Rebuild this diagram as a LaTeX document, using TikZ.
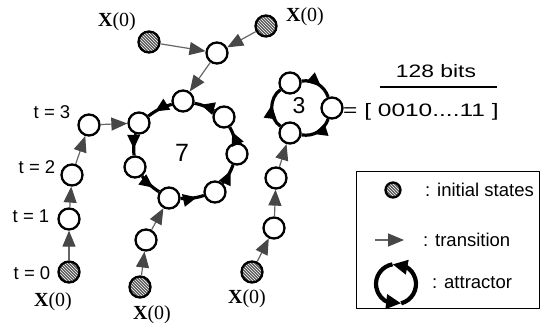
\documentclass[tikz,border=0pt]{standalone}
\usepackage{fontspec}
\setmainfont{Liberation Sans}
\newfontfamily\timesfont{Liberation Serif}
\usetikzlibrary{arrows.meta,patterns,decorations.markings,bending}

\tikzset{
  st/.style={circle,draw,line width=2.3pt,fill=white,minimum size=21pt,inner sep=0pt},
  init/.style={circle,draw,line width=2.3pt,minimum size=21pt,inner sep=0pt,
    preaction={fill=black!65},pattern=north west lines,pattern color=white},
  trans/.style={draw=black!60,line width=1.2pt,-{Triangle[length=16pt,width=13pt,color=black!72]}},
  cyc/.style={line width=3.2pt,postaction={decorate},
    decoration={markings,mark=at position #1 with {\arrow{Triangle[length=14pt,width=12pt]}}}},
  cyc/.default=0.7,
  attr/.style={line width=4.2pt,-{Triangle[length=15pt,width=14pt]}},
  lbl/.style={font=\fontsize{18.5}{20}\selectfont,inner sep=0pt},
  flbl/.style={font=\fontsize{18}{20}\selectfont,inner sep=0pt},
  xlbl/.style={font=\timesfont\fontsize{20}{22}\selectfont,inner sep=0pt},
}

\begin{document}
\begin{tikzpicture}[x=1pt,y=-1pt]
\useasboundingbox (0,0) rectangle (544,328);

% top merge
\node[init] (A) at (149,42) {};
\node[init] (B) at (266,26) {};
\node[st] (M) at (217,53) {};

% ring of 7
\node[st] (r1) at (183,101) {};
\node[st] (r2) at (224,117) {};
\node[st] (r3) at (237,154) {};
\node[st] (r4) at (215,192) {};
\node[st] (r5) at (169,198) {};
\node[st] (r6) at (135,167) {};
\node[st] (r7) at (139,123) {};
\node[font=\fontsize{25}{27}\selectfont,inner sep=0pt] (seven) at (182,153) {7};

% left chain
\node[init] (L0) at (69,272) {};
\node[st] (L1) at (69,219) {};
\node[st] (L2) at (72,175) {};
\node[st] (L3) at (89,125) {};

% middle chain
\node[init] (C0) at (140,287) {};
\node[st] (C1) at (146,240) {};

% right chain
\node[init] (D0) at (252,272) {};
\node[st] (D1) at (274,228) {};
\node[st] (D2) at (276,178) {};

% ring of 3
\node[st] (s1) at (290,83) {};
\node[st] (s2) at (332,108) {};
\node[st] (s3) at (290,133) {};
\node[font=\fontsize{23}{25}\selectfont,inner sep=0pt] (three) at (299,106) {3};

% labels
\node[xlbl] (xa) at (117,22) {\textbf{X}(0)};
\node[xlbl] (xb) at (305,17) {\textbf{X}(0)};
\node[xlbl] (xl) at (53,302) {\textbf{X}(0)};
\node[xlbl] (xc) at (152,315) {\textbf{X}(0)};
\node[xlbl] (xd) at (247,299) {\textbf{X}(0)};
\node[lbl] (t3) at (52,112) {t = 3};
\node[lbl] (t2) at (37,167) {t = 2};
\node[lbl] (t1) at (31,216) {t = 1};
\node[lbl] (t0) at (32,273) {t = 0};

% transitions
\draw[trans] (A) -- (M);
\draw[trans] (B) -- (M);
\draw[trans] (M) -- (r1);
\draw[trans] (L0) -- (L1);
\draw[trans] (L1) -- (L2);
\draw[trans] (L2) -- (L3);
\draw[trans] (L3) -- (r7);
\draw[trans] (C0) -- (C1);
\draw[trans] (C1) -- (r5);
\draw[trans] (D0) -- (D1);
\draw[trans] (D1) -- (D2);
\draw[trans] (D2) -- (s3);

% cycle 7
\draw[cyc] (r1) to[bend right=10] (r7);
\draw[cyc] (r7) to[bend right=10] (r6);
\draw[cyc] (r6) to[bend right=10] (r5);
\draw[cyc] (r5) to[bend right=10] (r4);
\draw[cyc] (r4) to[bend right=10] (r3);
\draw[cyc] (r3) to[bend right=10] (r2);
\draw[cyc] (r2) to[bend right=10] (r1);

% cycle 3
\draw[cyc=0.62] (s1) to[bend left=40] (s2);
\draw[cyc=0.65] (s2) to[bend left=40] (s3);
\draw[cyc=0.58] (s3) to[bend left=55] (s1);

% bit string
\node[flbl] (bits) at (436,71) {\scalebox{1.27}[1]{128 bits}};
\coordinate (fl0) at (380,87);
\coordinate (fl1) at (497,87);
\draw[line width=1.3pt] (fl0) -- (fl1);
\node[flbl,anchor=base west] (vec) at (343,117) {\scalebox{1.36}[1]{= [ 0010....11 ]}};

% legend
\draw[line width=0.8pt] (356,171) rectangle (539,308);
\node[init,minimum size=15pt] (li) at (393,190) {};
\node[lbl,anchor=west] (lit) at (425,190) {: initial states};
\coordinate (lt0) at (375,240);
\coordinate (lt1) at (404,240);
\draw[trans] (lt0) -- (lt1);
\node[lbl,anchor=west] (ltt) at (423,240) {: transition};
\coordinate (ac) at (396,284);
\draw[attr] ([shift={(-285:20)}]ac) arc (-285:-460:20);
\draw[attr] ([shift={(-100:20)}]ac) arc (-100:-285:20);
\node[lbl,anchor=west] (lat) at (432,283) {: attractor};
\end{tikzpicture}
\end{document}
